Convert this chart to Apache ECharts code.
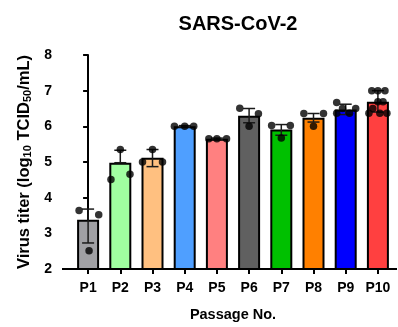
<!DOCTYPE html>
<html><head><meta charset="utf-8">
<script src="https://cdn.jsdelivr.net/npm/echarts@6/dist/echarts.min.js"></script>
<style>html,body{margin:0;padding:0;background:#fff}#c{width:398px;height:327px}</style>
</head><body><div id="c"></div>
<script>
const categories = ['P1','P2','P3','P4','P5','P6','P7','P8','P9','P10'];
const barMeans = [3.38, 4.98, 5.12, 6.00, 5.65, 6.30, 5.91, 6.24, 6.47, 6.69];
const errHigh  = [3.68, 5.33, 5.35, 6.02, 5.67, 6.50, 6.05, 6.36, 6.62, 7.00];
const errLow   = [2.73, 4.98, 4.87, 5.98, 5.63, 6.10, 5.75, 6.12, 6.33, 6.40];
const barColors = ['#A0A0A4','#A0FFA0','#FFC080','#4F9FFF','#FF8080','#606060','#00C000','#FF8000','#0000FF','#FF4040'];
const yTicks = [2, 3, 4, 5, 6, 7, 8];
// replicate values per passage and their horizontal scatter (in category units)
const repValues = [
  [3.64, 3.52, 2.51],
  [5.35, 4.51, 4.66],
  [5.35, 5.00, 5.00],
  [6.00, 6.00, 6.00],
  [5.65, 5.65, 5.65],
  [6.51, 6.35, 6.00],
  [6.02, 6.02, 5.67],
  [6.36, 6.36, 6.00],
  [6.67, 6.50, 6.50, 6.37, 6.37],
  [7.00, 7.00, 7.00, 6.69, 6.69, 6.50, 6.37, 6.37, 6.37]
];
const repJitter = [
  [-0.28, 0.33, 0.03],
  [0.00, -0.29, 0.30],
  [0.00, -0.31, 0.31],
  [-0.32, 0.00, 0.28],
  [-0.25, 0.00, 0.30],
  [-0.29, 0.29, 0.00],
  [-0.30, 0.28, 0.00],
  [-0.30, 0.31, 0.00],
  [-0.28, -0.10, 0.31, -0.28, 0.12],
  [-0.19, 0.00, 0.22, 0.00, 0.16, -0.16, -0.28, 0.06, 0.28]
];

const FONT = 'Liberation Sans, Arial, sans-serif';
const scatterData = [];
repValues.forEach((vals, i) => vals.forEach((v, j) => scatterData.push([i + repJitter[i][j], v])));

const chart = echarts.init(document.getElementById('c'), null, {renderer: 'canvas'});
const option = {
  animation: false,
  backgroundColor: '#fff',
  title: {
    text: 'SARS-CoV-2', left: 233, top: 9, textAlign: 'center',
    textStyle: {fontFamily: FONT, fontWeight: 'bold', fontSize: 20, color: '#000'}
  },
  grid: {left: 72, right: 4, top: 55, bottom: 55.5},
  xAxis: [{
    type: 'category', data: categories,
    axisLine: {show: false},
    axisTick: {show: true, alignWithLabel: true, interval: 0, length: 5, lineStyle: {color: '#000', width: 2}},
    axisLabel: {interval: 0, fontFamily: FONT, fontWeight: 'bold', fontSize: 14, color: '#000', margin: 12},
    name: 'Passage No.', nameLocation: 'middle', nameGap: 38,
    nameTextStyle: {fontFamily: FONT, fontWeight: 'bold', fontSize: 14.5, color: '#000'}
  }, {
    type: 'value', min: -0.5, max: 9.5, show: false
  }],
  yAxis: {
    type: 'value', min: yTicks[0], max: yTicks[yTicks.length - 1], interval: 1, offset: 9,
    axisLine: {show: true, lineStyle: {color: '#000', width: 2}},
    axisTick: {show: true, length: 5, lineStyle: {color: '#000', width: 2}},
    splitLine: {show: false},
    axisLabel: {fontFamily: FONT, fontWeight: 'bold', fontSize: 14, color: '#000', margin: 11},
    name: 'Virus titer (log{s|10} TCID{s|50}/mL)', nameLocation: 'middle', nameGap: 30,
    nameTextStyle: {
      fontFamily: FONT, fontWeight: 'bold', fontSize: 16.5, color: '#000', lineHeight: 18,
      rich: {s: {fontFamily: FONT, fontWeight: 'bold', fontSize: 11, color: '#000', verticalAlign: 'bottom', lineHeight: 12, padding: [5, 0, 0, 0]}}
    }
  },
  series: [{
    type: 'bar', xAxisIndex: 0, barWidth: 22,
    data: barMeans.map((v, i) => ({value: v, itemStyle: {color: barColors[i]}})),
    itemStyle: {borderColor: '#000', borderWidth: 2},
    z: 2
  }, {
    type: 'custom', xAxisIndex: 0, z: 3,
    data: categories.map((c, i) => [i, errLow[i], errHigh[i]]),
    renderItem: function (params, api) {
      const top = api.coord([api.value(0), api.value(2)]);
      const bot = api.coord([api.value(0), api.value(1)]);
      const hw = 6;
      const st = {stroke: '#1a1a1a', lineWidth: 1.5};
      return {type: 'group', children: [
        {type: 'line', shape: {x1: top[0], y1: top[1], x2: bot[0], y2: bot[1]}, style: st},
        {type: 'line', shape: {x1: top[0] - hw, y1: top[1], x2: top[0] + hw, y2: top[1]}, style: st},
        {type: 'line', shape: {x1: bot[0] - hw, y1: bot[1], x2: bot[0] + hw, y2: bot[1]}, style: st}
      ]};
    }
  }, {
    type: 'scatter', xAxisIndex: 1, z: 4,
    symbol: 'circle', symbolSize: 7.5,
    itemStyle: {color: '#000'},
    data: scatterData
  }]
};
chart.setOption(option);
// x axis baseline extending from the y axis to the right edge (Prism style)
const y0 = chart.convertToPixel({yAxisIndex: 0}, yTicks[0]);
chart.setOption({graphic: [{type: 'line', z: 10, shape: {x1: 62, y1: y0, x2: 397, y2: y0}, style: {stroke: '#000', lineWidth: 2}}]});
</script></body></html>
